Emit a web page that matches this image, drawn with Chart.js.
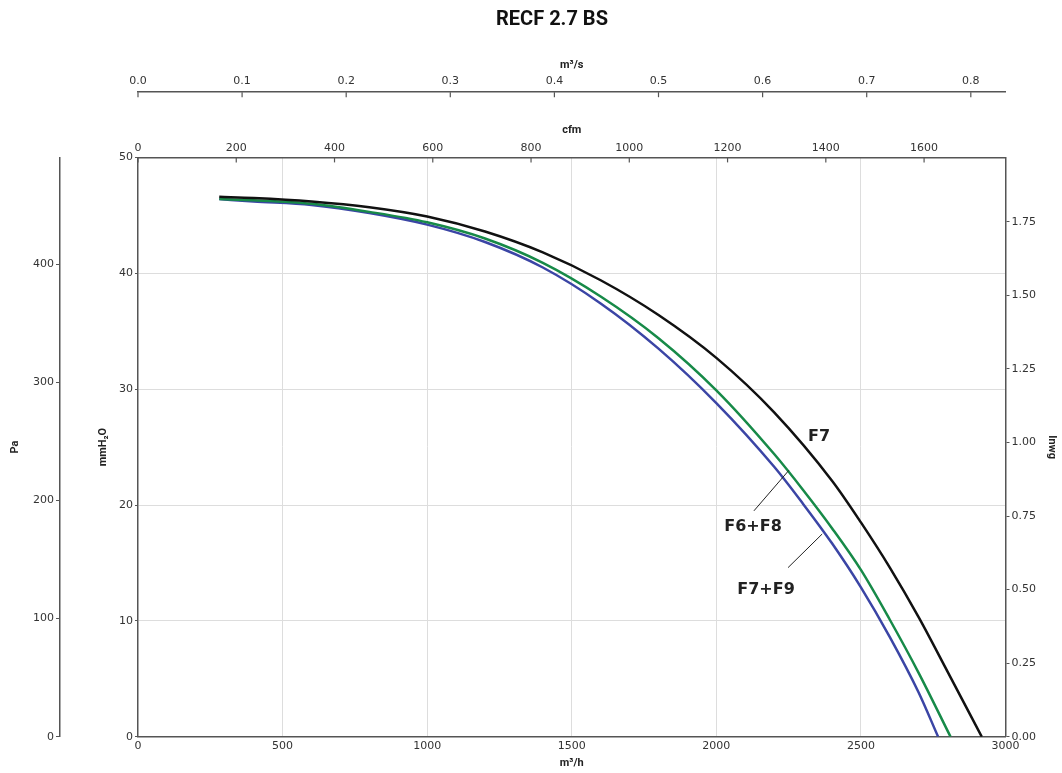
<!DOCTYPE html>
<html>
<head>
<meta charset="utf-8">
<script src="https://cdn.jsdelivr.net/npm/chart.js@4.4.1/dist/chart.umd.min.js"></script>
<style>
  html, body { margin: 0; padding: 0; background: #fff; }
  #wrap { width: 1062px; height: 773px; position: relative; }
</style>
</head>
<body>
<div id="wrap"><canvas id="myChart"></canvas></div>
<script>
// chart title
const chartTitle = 'RECF 2.7 BS';

// curves: air flow (m³/h) and static pressure (mmH2O)
const f7Flow  = [281, 400, 600, 800, 1000, 1200, 1400, 1600, 1800, 2000, 2200, 2400, 2500, 2600, 2700, 2800, 2918];
const f7Press = [46.6, 46.5, 46.2, 45.7, 44.9, 43.6, 41.8, 39.4, 36.4, 32.7, 28.0, 22.1, 18.5, 14.6, 10.3, 5.6, 0];

const f6f8Flow  = [281, 400, 600, 800, 1000, 1200, 1400, 1600, 1800, 2000, 2200, 2300, 2400, 2500, 2600, 2700, 2810];
const f6f8Press = [46.4, 46.3, 46.0, 45.3, 44.4, 43.0, 40.9, 38.0, 34.4, 29.9, 24.4, 21.3, 18.0, 14.4, 10.1, 5.5, 0];

const f7f9Flow  = [281, 400, 600, 800, 1000, 1200, 1400, 1600, 1800, 2000, 2200, 2300, 2400, 2500, 2600, 2700, 2767];
const f7f9Press = [46.4, 46.2, 45.9, 45.2, 44.2, 42.7, 40.5, 37.4, 33.5, 28.8, 23.3, 20.1, 16.7, 12.9, 8.6, 3.8, 0];

const seriesNames  = ['F7', 'F6+F8', 'F7+F9'];
const seriesColors = ['#111111', '#178a48', '#3b45a5'];

// curve labels with leader lines (data units)
const labelFlow   = [2355, 2127, 2172];
const labelPress  = [25.9, 18.1, 12.7];
const leaderStart = [null, [2130, 19.5], [2248, 14.6]];
const leaderEnd   = [null, [2251, 23.0], [2366, 17.5]];

// tick labels of the six axes
const flowTicks = [0, 500, 1000, 1500, 2000, 2500, 3000];
const cfmTicks  = [0, 200, 400, 600, 800, 1000, 1200, 1400, 1600];
const m3sTicks  = [0, 0.1, 0.2, 0.3, 0.4, 0.5, 0.6, 0.7, 0.8];
const mmTicks   = [0, 10, 20, 30, 40, 50];
const paTicks   = [0, 100, 200, 300, 400];
const inwgTicks = [0, 0.25, 0.5, 0.75, 1.0, 1.25, 1.5, 1.75];

const flowMax = 3000, mmMax = 50;
const PA_PER_MM = 9.80665, MM_PER_INWG = 25.4, CFM_PER_M3H = 0.588578;

function toPoints(xs, ys) {
    return xs.map((x, i) => ({ x: x, y: ys[i] }));
}
function fixedTicks(list) {
    return scale => { scale.ticks = list.map(v => ({ value: v })); };
}

const tickFont = { family: 'DejaVu Sans', size: 11 };
const titleFont = { family: 'Roboto', size: 11, weight: 'bold', lineHeight: 1 };
const axisColor = '#555';

const extras = {
    id: 'extras',
    afterDraw(chart) {
        const ctx = chart.ctx;
        const xs = chart.scales.x, ys = chart.scales.y;
        ctx.save();
        // main title
        ctx.fillStyle = '#111';
        ctx.font = 'bold 20px Roboto';
        ctx.textAlign = 'center';
        ctx.textBaseline = 'middle';
        ctx.fillText(chartTitle, 552, 20);

        // inward tick marks on the top axes
        ctx.strokeStyle = axisColor;
        ctx.lineWidth = 1.2;
        ['cfm', 'm3s'].forEach(id => {
            const s = chart.scales[id];
            s.ticks.forEach(t => {
                const px = s.getPixelForValue(t.value);
                ctx.beginPath();
                ctx.moveTo(px, s.bottom);
                ctx.lineTo(px, s.bottom + 5);
                ctx.stroke();
            });
        });

        // leader lines and curve labels
        ctx.strokeStyle = '#222';
        ctx.lineWidth = 1;
        for (let i = 0; i < seriesNames.length; i++) {
            if (leaderStart[i]) {
                ctx.beginPath();
                ctx.moveTo(xs.getPixelForValue(leaderStart[i][0]), ys.getPixelForValue(leaderStart[i][1]));
                ctx.lineTo(xs.getPixelForValue(leaderEnd[i][0]), ys.getPixelForValue(leaderEnd[i][1]));
                ctx.stroke();
            }
            ctx.fillStyle = '#222';
            ctx.font = 'bold 16px "DejaVu Sans"';
            ctx.fillText(seriesNames[i], xs.getPixelForValue(labelFlow[i]), ys.getPixelForValue(labelPress[i]));
        }
        ctx.restore();
    }
};

const ctx = document.getElementById('myChart').getContext('2d');
const myChart = new Chart(ctx, {
    type: 'line',
    data: {
        datasets: [
            { label: seriesNames[0], data: toPoints(f7Flow, f7Press), borderColor: seriesColors[0] },
            { label: seriesNames[1], data: toPoints(f6f8Flow, f6f8Press), borderColor: seriesColors[1] },
            { label: seriesNames[2], data: toPoints(f7f9Flow, f7f9Press), borderColor: seriesColors[2] }
        ]
    },
    options: {
        responsive: true,
        maintainAspectRatio: false,
        animation: false,
        devicePixelRatio: 1,
        layout: { padding: { top: 40, bottom: 4, left: 0, right: 0 } },
        elements: {
            point: { radius: 0 },
            line: { borderWidth: 2.5, cubicInterpolationMode: 'monotone', fill: false }
        },
        plugins: {
            legend: { display: false },
            tooltip: { enabled: false },
            title: { display: false }
        },
        scales: {
            x: {
                type: 'linear', position: 'bottom', min: 0, max: flowMax,
                afterBuildTicks: fixedTicks(flowTicks),
                ticks: { font: tickFont, color: '#333', padding: 3, maxRotation: 0, autoSkip: false, callback: v => String(v) },
                grid: { color: '#dddddd', lineWidth: 1, drawTicks: false },
                border: { color: axisColor, width: 1.5 },
                title: { display: true, text: 'm³/h', font: titleFont, color: '#222', padding: { top: 2, bottom: 0 } }
            },
            cfm: {
                type: 'linear', position: 'top', weight: 0, min: 0, max: flowMax * CFM_PER_M3H,
                afterBuildTicks: fixedTicks(cfmTicks),
                ticks: { font: tickFont, color: '#333', padding: 3, maxRotation: 0, autoSkip: false, callback: v => String(v) },
                grid: { drawOnChartArea: false, drawTicks: false },
                border: { color: axisColor, width: 1.5 },
                title: { display: true, text: 'cfm', font: titleFont, color: '#222', padding: { top: 33, bottom: 2 } }
            },
            m3s: {
                type: 'linear', position: 'top', weight: 10, min: 0, max: flowMax / 3600,
                afterBuildTicks: fixedTicks(m3sTicks),
                ticks: { font: tickFont, color: '#333', padding: 4, maxRotation: 0, autoSkip: false, callback: v => v.toFixed(1) },
                grid: { drawOnChartArea: false, drawTicks: false },
                border: { color: axisColor, width: 1.5 },
                title: { display: true, text: 'm³/s', font: titleFont, color: '#222', padding: { top: 20, bottom: 0 } }
            },
            y: {
                type: 'linear', position: 'left', weight: 0, min: 0, max: mmMax,
                afterBuildTicks: fixedTicks(mmTicks),
                ticks: { font: tickFont, color: '#333', padding: 2, callback: v => String(v) },
                grid: { color: '#dddddd', lineWidth: 1, tickLength: 3, tickColor: axisColor },
                border: { color: axisColor, width: 1.5 },
                title: { display: true, text: 'mmH₂O', font: titleFont, color: '#222', padding: { top: 38, bottom: 8 } }
            },
            pa: {
                type: 'linear', position: 'left', weight: 10, min: 0, max: mmMax * PA_PER_MM,
                afterBuildTicks: fixedTicks(paTicks),
                ticks: { font: tickFont, color: '#333', padding: 2, callback: v => String(v) },
                grid: { drawOnChartArea: false, tickLength: 4, tickColor: axisColor },
                border: { color: axisColor, width: 1.5 },
                title: { display: true, text: 'Pa', font: titleFont, color: '#222', padding: { top: 10, bottom: 10 } }
            },
            inwg: {
                type: 'linear', position: 'right', min: 0, max: mmMax / MM_PER_INWG,
                afterBuildTicks: fixedTicks(inwgTicks),
                ticks: { font: tickFont, color: '#333', padding: 2, callback: v => v.toFixed(2) },
                grid: { drawOnChartArea: false, tickLength: 4, tickColor: axisColor },
                border: { color: axisColor, width: 1.5 },
                title: { display: true, text: 'Inwg', font: titleFont, color: '#222', padding: { top: 5, bottom: 8 } }
            }
        }
    },
    plugins: [extras]
});
</script>
</body>
</html>
